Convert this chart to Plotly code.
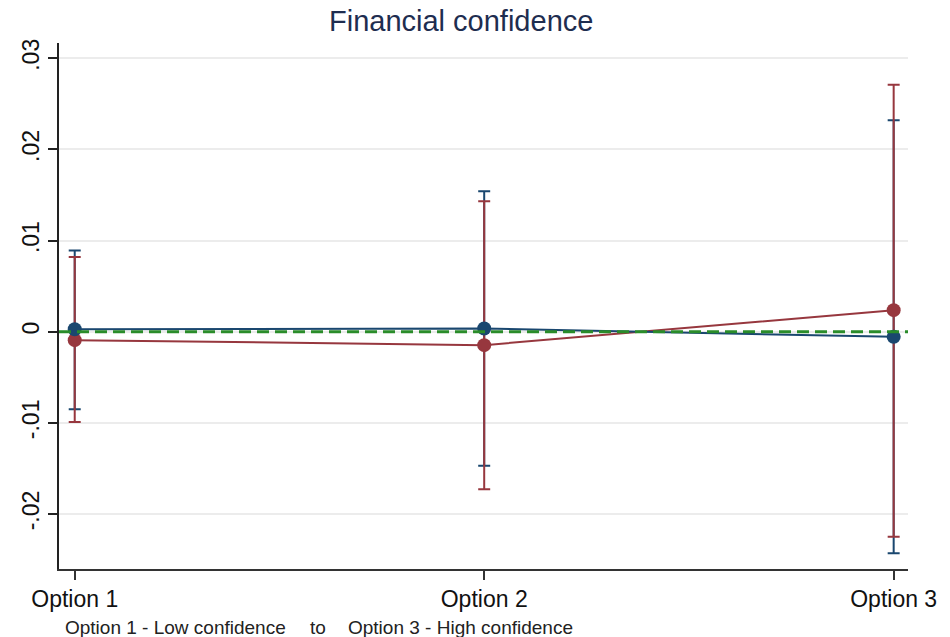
import numpy as np
import plotly.graph_objects as go

# Categories on the x axis
options = ["Option 1", "Option 2", "Option 3"]

# Series 1 (navy): point estimates and 95% CI bounds
navy_est = [0.00027, 0.00035, -0.00057]
navy_lo = [-0.0085, -0.0147, -0.0243]
navy_hi = [0.0089, 0.0154, 0.0232]

# Series 2 (maroon): point estimates and 95% CI bounds
maroon_est = [-0.00093, -0.00148, 0.00236]
maroon_lo = [-0.0099, -0.0173, -0.0225]
maroon_hi = [0.0082, 0.0143, 0.0271]

# Y axis ticks
y_ticks = [-0.02, -0.01, 0.0, 0.01, 0.02, 0.03]
y_tick_text = ["-.02", "-.01", "0", ".01", ".02", ".03"]

NAVY = "#1a476f"
MAROON = "#97373e"
GREEN = "#2a8c2a"
FONT = "Liberation Sans, Arial, sans-serif"

W, H = 950, 637
L, R, T, B = 59, 42, 43, 68
plot_w = W - L - R
plot_h = H - T - B


def ci_trace(est, lo, hi, color):
    est = np.array(est)
    return go.Scatter(
        x=options, y=est, mode="markers",
        marker=dict(size=1, opacity=0, color=color),
        error_y=dict(type="data", symmetric=False,
                     array=np.array(hi) - est, arrayminus=est - np.array(lo),
                     color=color, thickness=2, width=6),
        showlegend=False, hoverinfo="skip",
    )


def point_trace(est, color):
    return go.Scatter(
        x=options, y=est, mode="lines+markers",
        line=dict(color=color, width=2),
        marker=dict(size=14, color=color),
        showlegend=False,
    )


fig = go.Figure()
fig.add_trace(ci_trace(navy_est, navy_lo, navy_hi, NAVY))
fig.add_trace(ci_trace(maroon_est, maroon_lo, maroon_hi, MAROON))
fig.add_trace(point_trace(maroon_est, MAROON))
fig.add_trace(point_trace(navy_est, NAVY))

# Reference line at zero
fig.add_shape(type="line", xref="paper", yref="y", x0=0, x1=1, y0=0, y1=0,
              line=dict(color=GREEN, width=3, dash="12px,6px"))

fig.update_layout(
    width=W, height=H,
    margin=dict(l=L, r=R, t=T, b=B, pad=0),
    paper_bgcolor="white", plot_bgcolor="white",
    font=dict(family=FONT, color="#111111"),
)

# Title
fig.add_annotation(text="Financial confidence", xref="paper", yref="paper",
                   x=(461 - L) / plot_w, y=(H - B - 3) / plot_h,
                   xanchor="center", yanchor="top", showarrow=False,
                   font=dict(size=29, color="#1e2d50", family=FONT))

fig.update_xaxes(
    type="category", range=[-0.0384, 2.035],
    showgrid=False, zeroline=False,
    showline=True, linecolor="#333333", linewidth=1.5,
    ticks="outside", ticklen=9, tickcolor="#333333", tickwidth=1.5,
    tickfont=dict(size=23, color="#111111"),
)

fig.update_yaxes(
    range=[-0.02604, 0.03167],
    tickvals=y_ticks, ticktext=y_tick_text, tickangle=-90,
    showgrid=True, gridcolor="#ececec", gridwidth=1.5, zeroline=False,
    showline=True, linecolor="#222222", linewidth=1.5,
    ticks="outside", ticklen=9, tickcolor="#222222", tickwidth=1.5,
    tickfont=dict(size=23, color="#111111"),
)

# Caption below the x axis
cap_y = (H - B - 627) / plot_h
for txt, px in [("Option 1 - Low confidence", 63),
                ("to", 308),
                ("Option 3 - High confidence", 346)]:
    fig.add_annotation(text=txt, xref="paper", yref="paper",
                       x=(px - L) / plot_w, y=cap_y,
                       xanchor="left", yanchor="middle", showarrow=False,
                       font=dict(size=19, color="#222222", family=FONT))

fig.write_html("out.html")
